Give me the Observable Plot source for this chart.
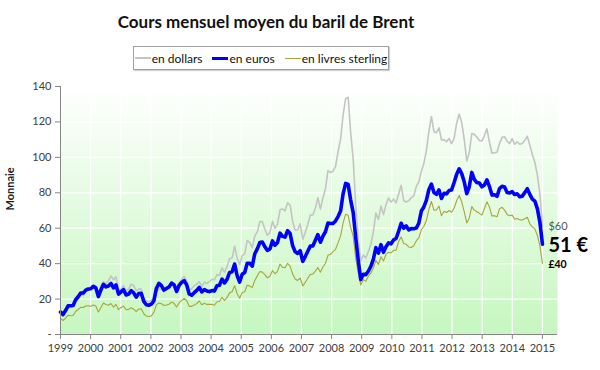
<!DOCTYPE html>
<html><head><meta charset="utf-8">
<script src="https://cdn.jsdelivr.net/npm/d3@7"></script>
<script src="https://cdn.jsdelivr.net/npm/@observablehq/plot@0.6"></script>
<style>
body{margin:0;background:#fff;font-family:Lato,"Open Sans",sans-serif;}
#wrap{position:relative;width:600px;height:370px;overflow:hidden;}
#title{position:absolute;top:11px;left:0;width:532px;text-align:center;font-weight:bold;font-size:17px;color:#111;}
#legend{position:absolute;left:133px;top:46px;width:254px;height:22px;border:1px solid #a0a0a0;box-shadow:1px 1px 1px #d0d0d0;display:flex;align-items:center;justify-content:center;font-size:12px;color:#111;}
.item{display:flex;align-items:center;margin:0 5px;white-space:nowrap;}
.sw{display:inline-block;width:16px;margin-right:1px;}
#chart{position:absolute;left:0;top:75px;}
</style></head>
<body>
<div id="wrap">
  <div id="title">Cours mensuel moyen du baril de Brent</div>
  <div id="legend"></div>
  <div id="chart"></div>
</div>
<script>
// Monthly averages, Jan 1999 -> Dec 2014
const usd = [
 11.1,10.3,12.5,15.3,15.3,15.9,19.0,20.3,22.5,22.0,24.6,25.5,
 25.5,27.8,27.5,22.8,27.6,29.8,28.6,30.4,33.1,30.9,32.6,25.3,
 25.6,27.5,24.5,25.6,28.4,27.7,24.5,25.7,25.6,20.5,18.9,18.5,
 19.4,20.3,23.7,25.7,25.4,24.1,25.7,26.3,28.4,27.5,24.3,28.3,
 31.2,32.8,30.3,25.0,25.8,27.6,28.4,29.8,27.1,29.6,28.8,29.8,
 31.2,30.9,33.8,33.4,37.6,35.2,38.2,42.7,43.2,49.8,43.1,39.6,
 44.5,45.5,53.1,51.9,49.0,55.6,57.9,63.8,63.7,59.4,56.0,57.5,
 63.9,60.0,62.3,70.4,70.9,69.8,74.4,73.0,63.8,58.9,59.1,62.5,
 53.7,57.6,62.1,67.4,67.5,71.3,77.2,70.8,77.1,82.3,92.5,91.5,
 92.2,94.8,103.3,110.2,123.9,133.1,133.9,113.9,99.1,72.7,53.2,41.6,
 44.9,43.2,46.8,50.8,57.9,68.6,64.9,72.5,67.7,73.2,77.0,74.7,
 76.4,74.3,79.3,84.2,75.6,74.8,75.6,77.1,78.2,83.5,86.1,92.0,
 96.5,103.7,114.6,123.1,114.5,113.9,116.7,109.8,110.0,108.8,110.6,107.7,
 110.7,119.3,124.5,119.8,110.3,98.0,102.6,113.4,113.0,111.5,109.5,109.2,
 112.3,116.1,108.5,102.3,102.6,102.9,107.9,111.3,111.6,109.1,107.8,110.6,
 107.4,108.8,107.4,107.8,109.7,111.9,106.8,101.6,97.1,90.0,79.0,61.0
];
const eur = [
 12.7,11.3,13.5,16.2,16.2,16.4,19.6,21.3,23.4,23.4,25.1,25.7,
 25.8,27.2,26.4,21.4,25.1,28.3,26.9,27.4,28.8,26.3,28.0,22.8,
 24.1,25.3,22.3,22.8,24.7,23.5,21.1,23.1,23.3,18.7,16.8,16.5,
 17.1,19.0,26.0,28.9,27.6,25.1,26.0,26.8,29.0,28.1,24.3,27.7,
 29.4,30.4,28.1,22.9,22.2,23.6,24.9,26.6,24.0,25.3,24.6,24.2,
 24.8,24.5,27.5,27.8,31.3,29.1,31.1,35.0,35.4,39.8,33.2,29.6,
 34.0,35.0,40.2,40.2,38.6,45.6,48.3,51.9,52.2,49.5,47.5,48.3,
 52.8,50.4,51.9,57.2,55.4,55.0,58.6,57.0,50.2,46.7,45.8,47.3,
 41.3,44.0,47.0,49.9,50.0,53.2,56.4,52.1,55.5,58.0,62.9,62.7,
 62.7,64.1,66.6,69.7,79.4,85.3,84.7,75.9,68.8,54.7,41.9,31.0,
 34.0,33.8,35.7,38.5,42.6,49.0,46.0,50.7,46.4,49.5,51.7,51.2,
 53.4,54.2,58.3,62.8,60.0,61.3,59.1,59.8,59.7,60.1,62.8,69.7,
 72.0,75.7,81.9,84.9,80.1,79.1,81.6,76.8,79.7,79.4,81.3,81.6,
 85.8,90.4,93.5,90.8,86.2,79.5,83.4,91.5,87.6,85.8,85.5,83.4,
 84.4,87.3,83.5,78.7,78.9,78.0,82.4,83.7,83.3,80.2,79.9,80.7,
 79.0,79.4,77.8,78.1,80.1,82.3,79.1,76.4,75.3,70.9,63.2,51.0
];
const gbp = [
 9.1,7.9,9.2,10.9,10.6,10.7,13.0,14.1,15.3,15.2,16.1,16.2,
 15.9,16.7,16.1,12.7,15.1,17.8,16.9,16.5,17.5,15.4,17.0,14.0,
 15.3,16.0,14.0,14.2,15.1,14.3,12.9,14.4,14.5,11.7,10.4,10.2,
 10.5,12.5,16.7,17.8,17.4,16.4,16.6,17.1,18.3,17.6,15.5,17.8,
 19.3,20.4,19.2,15.9,15.9,16.6,17.5,18.9,16.8,17.6,17.0,17.0,
 17.1,16.5,18.5,18.6,21.0,19.2,20.8,23.5,24.1,27.5,23.2,20.5,
 23.7,24.1,27.8,27.3,26.5,30.5,33.1,35.6,35.2,33.8,32.0,32.9,
 36.1,34.3,35.6,39.8,37.9,37.7,40.2,38.6,34.1,31.3,30.5,31.9,
 27.4,29.4,31.8,33.9,34.1,35.8,37.8,35.2,38.2,40.1,44.7,45.3,
 46.8,48.1,51.7,55.7,62.9,67.9,67.3,60.3,55.4,43.0,34.8,27.9,
 31.0,30.0,33.0,34.6,37.6,41.8,39.6,43.9,41.5,45.2,46.4,46.1,
 47.5,47.6,52.5,55.0,51.4,50.9,49.4,49.1,50.1,52.8,54.5,59.0,
 61.1,64.4,70.7,75.1,70.2,70.3,72.5,67.0,69.6,68.9,70.0,69.0,
 71.4,75.5,78.5,74.9,69.4,63.0,65.8,72.2,70.2,69.3,68.4,67.4,
 71.1,74.9,71.9,66.9,67.1,66.4,71.0,71.8,70.2,67.8,67.0,67.4,
 65.1,65.5,64.7,64.6,65.3,66.2,62.5,60.8,59.6,55.9,50.0,40.0
];
const years = [1999,2000,2001,2002,2003,2004,2005,2006,2007,2008,2009,2010,2011,2012,2013,2014,2015];
const yTicks = [0,20,40,60,80,100,120,140];
const seriesNames = ["en dollars","en euros","en livres sterling"];
const seriesColors = ["#c4c4c4","#0000ff","#a9a53c"];
const endLabels = ["$60","51 €","£40"];

// category positions: points evenly spread from first to last year tick
const n = usd.length;
const first = years[0], last = years[years.length-1];
const pos = i => first + i*(last-first)/(n-1);
const rows = (arr) => arr.map((v,i)=>({x:pos(i), y:v}));
const dUsd = rows(usd), dEur = rows(eur), dGbp = rows(gbp);

// legend
const lg = document.getElementById("legend");
const swH = [2,3,1.5];
seriesNames.forEach((nm,k)=>{
  const it = document.createElement("span"); it.className="item";
  const sw = document.createElement("span"); sw.className="sw";
  sw.style.borderTop = swH[k]+"px solid "+seriesColors[k];
  it.appendChild(sw); it.appendChild(document.createTextNode(nm));
  lg.appendChild(it);
});

const endRows = [
  {x: dUsd[n-1].x, y: usd[n-1], t: endLabels[0]},
  {x: dEur[n-1].x, y: eur[n-1], t: endLabels[1]},
  {x: dGbp[n-1].x, y: gbp[n-1], t: endLabels[2]}
];

const plot = Plot.plot({
  width: 600, height: 295,
  marginTop: 11, marginBottom: 36, marginLeft: 60, marginRight: 43,
  style: {fontFamily: "Lato, 'Open Sans', sans-serif", fontSize: "11px", color: "#404040", background: "transparent"},
  x: {type: "linear", domain: [first, last + 0.5]},
  y: {domain: [0, 140]},
  marks: [
    Plot.frame({fill: "url(#bgGrad)", stroke: null}),
    Plot.gridY(yTicks.slice(1), {stroke: "white", strokeOpacity: 1, strokeWidth: 1.2}),
    Plot.gridX(years.slice(1), {stroke: "white", strokeOpacity: 1, strokeWidth: 1.2}),
    Plot.line(dUsd, {x: "x", y: "y", stroke: seriesColors[0], strokeWidth: 1.6}),
    Plot.line(dGbp, {x: "x", y: "y", stroke: seriesColors[2], strokeWidth: 1.1}),
    Plot.line(dEur, {x: "x", y: "y", stroke: seriesColors[1], strokeWidth: 3.6}),
    Plot.ruleX([first], {stroke: "#868686"}),
    Plot.ruleY([0], {stroke: "#868686"}),
    Plot.axisY({ticks: yTicks, tickSize: 5, tickPadding: 4, stroke: "#868686", fill: "#404040", label: null,
      tickFormat: d => d === 0 ? "-" : String(d)}),
    Plot.axisX({ticks: years, tickSize: 5, tickPadding: 5, stroke: "#868686", fill: "#404040", label: null,
      tickFormat: d => String(d)}),
    Plot.text(["Monnaie"], {frameAnchor: "left", dx: -50, rotate: -90, fontSize: 11, fontWeight: "bold", fill: "#222"}),
    Plot.text([endRows[0]], {x: "x", y: "y", text: "t", dx: 6, dy: 0, textAnchor: "start", fontSize: 11, fill: "#555"}),
    Plot.text([endRows[1]], {x: "x", y: "y", text: "t", dx: 6, dy: 1, textAnchor: "start", fontSize: 20, fontWeight: "bold", fill: "#000"}),
    Plot.text([endRows[2]], {x: "x", y: "y", text: "t", dx: 6, dy: 1, textAnchor: "start", fontSize: 10.5, fontWeight: "bold", fill: "#000"})
  ]
});

const defs = d3.create("svg:defs");
const grad = defs.append("linearGradient").attr("id","bgGrad").attr("x1",0).attr("y1",0).attr("x2",0).attr("y2",1);
grad.append("stop").attr("offset","0%").attr("stop-color","#ffffff");
grad.append("stop").attr("offset","100%").attr("stop-color","#c6f7bf");
plot.insertBefore(defs.node(), plot.firstChild);
document.getElementById("chart").appendChild(plot);
</script>
</body></html>
